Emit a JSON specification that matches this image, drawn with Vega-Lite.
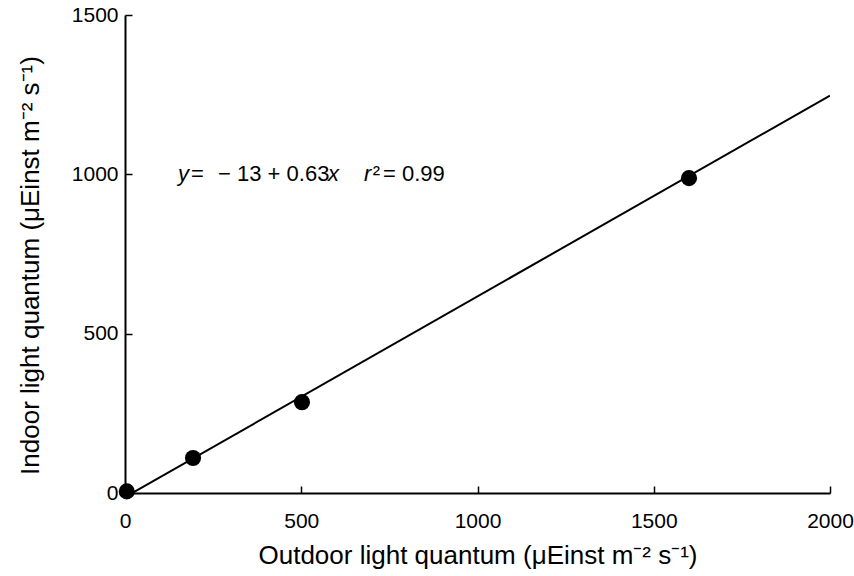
{
  "$schema": "https://vega.github.io/schema/vega-lite/v6.json",
  "width": 705,
  "height": 478,
  "autosize": {"type": "none"},
  "padding": {"left": 125, "top": 15, "right": 24, "bottom": 83},
  "background": "white",
  "config": {
    "view": {"stroke": null},
    "font": "Liberation Sans",
    "axis": {
      "grid": false,
      "domainColor": "black",
      "domainWidth": 2,
      "tickColor": "black",
      "tickWidth": 1.5,
      "tickSize": -7,
      "labelFont": "Liberation Sans",
      "labelFontSize": 21,
      "labelColor": "black",
      "labelFlush": false,
      "format": "d",
      "titleFont": "Liberation Sans",
      "titleFontSize": 26,
      "titleFontWeight": "normal",
      "titleColor": "black"
    }
  },
  "datasets": {
    "pts": [
      {"outdoor": 5, "indoor": 5},
      {"outdoor": 193, "indoor": 110},
      {"outdoor": 502, "indoor": 285},
      {"outdoor": 1600, "indoor": 988}
    ],
    "fit": [
      {"outdoor": 0, "indoor": -13},
      {"outdoor": 2000, "indoor": 1247}
    ],
    "italic": [
      {"x": 150, "y": 1000, "t": "y"},
      {"x": 576, "y": 1000, "t": "x"},
      {"x": 678, "y": 1000, "t": "r"}
    ],
    "plain": [
      {"x": 187, "y": 1000, "t": "="},
      {"x": 264, "y": 1000, "t": "− 13 + 0.63"},
      {"x": 703, "y": 1000, "t": "²"},
      {"x": 732, "y": 1000, "t": "= 0.99"}
    ]
  },
  "layer": [
    {
      "data": {"name": "fit"},
      "mark": {"type": "line", "color": "black", "strokeWidth": 2, "clip": true},
      "encoding": {
        "x": {"field": "outdoor", "type": "quantitative", "scale": {"domain": [0, 2000], "nice": false},
          "axis": {"values": [0, 500, 1000, 1500, 2000], "labelPadding": 24, "title": "Outdoor light quantum (μEinst m⁻² s⁻¹)", "titlePadding": 11}},
        "y": {"field": "indoor", "type": "quantitative", "scale": {"domain": [0, 1500], "nice": false},
          "axis": {"values": [0, 500, 1000, 1500], "labelPadding": 14, "title": "Indoor light quantum (μEinst m⁻² s⁻¹)", "titlePadding": 28, "titleY": 250}}
      }
    },
    {
      "data": {"name": "pts"},
      "mark": {"type": "circle", "color": "black", "opacity": 1, "size": 260},
      "encoding": {
        "x": {"field": "outdoor", "type": "quantitative"},
        "y": {"field": "indoor", "type": "quantitative"}
      }
    },
    {
      "data": {"name": "italic"},
      "mark": {"type": "text", "align": "left", "baseline": "middle", "fontSize": 22, "fontStyle": "italic", "color": "black"},
      "encoding": {
        "x": {"field": "x", "type": "quantitative"},
        "y": {"field": "y", "type": "quantitative"},
        "text": {"field": "t"}
      }
    },
    {
      "data": {"name": "plain"},
      "mark": {"type": "text", "align": "left", "baseline": "middle", "fontSize": 22, "color": "black"},
      "encoding": {
        "x": {"field": "x", "type": "quantitative"},
        "y": {"field": "y", "type": "quantitative"},
        "text": {"field": "t"}
      }
    }
  ]
}
